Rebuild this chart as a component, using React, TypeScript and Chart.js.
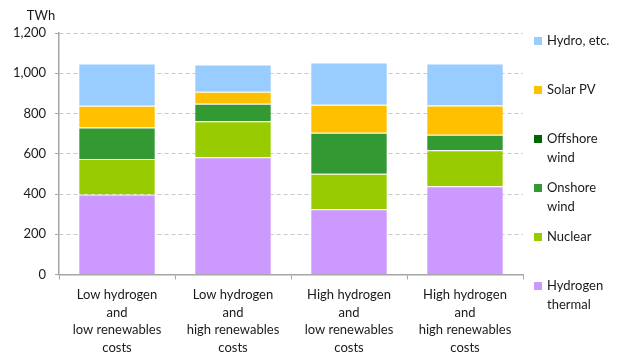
import React, { useEffect, useRef } from "react";
import { Chart, registerables } from "chart.js";

Chart.register(...registerables);

const categories: string[][] = [
  ["Low hydrogen", "and", "low renewables", "costs"],
  ["Low hydrogen", "and", "high renewables", "costs"],
  ["High hydrogen", "and", "low renewables", "costs"],
  ["High hydrogen", "and", "high renewables", "costs"],
];

const hydrogenThermal = [398, 582, 324, 438];
const nuclear = [176, 180, 177, 180];
const onshoreWind = [157, 86, 203, 76];
const offshoreWind = [0, 0, 0, 0];
const solarPV = [107, 60, 139, 146];
const hydroEtc = [211, 136, 211, 209];

const yTicks = [0, 200, 400, 600, 800, 1000, 1200];

const FONT = "Lato, 'Open Sans', sans-serif";

type LegendEntry = { lines: string[]; color: string };

const legendEntries: LegendEntry[] = [
  { lines: ["Hydro, etc."], color: "#99CCFF" },
  { lines: ["Solar PV"], color: "#FFC000" },
  { lines: ["Offshore", "wind"], color: "#006600" },
  { lines: ["Onshore", "wind"], color: "#339933" },
  { lines: ["Nuclear"], color: "#99CC00" },
  { lines: ["Hydrogen", "thermal"], color: "#CC99FF" },
];

const sideLegend = {
  id: "sideLegend",
  afterDraw(chart: Chart) {
    const ctx = chart.ctx;
    const { top, right } = chart.chartArea;
    ctx.save();
    ctx.font = `13px ${FONT}`;
    ctx.fillStyle = "#1a1a1a";
    ctx.textBaseline = "middle";
    ctx.textAlign = "left";
    const x0 = right + 11;
    const startY = top + 8;
    const gap = 49;
    legendEntries.forEach((e, i) => {
      const cy = startY + i * gap;
      ctx.fillStyle = e.color;
      ctx.fillRect(x0, cy - 4, 8, 8);
      ctx.fillStyle = "#1a1a1a";
      e.lines.forEach((ln, j) => {
        ctx.fillText(ln, x0 + 13, cy + j * 18.5);
      });
    });
    // unit label above the value axis
    ctx.textAlign = "center";
    ctx.font = `13px ${FONT}`;
    ctx.fillText("TWh", 41, top - 17);
    ctx.restore();
  },
};

export default function App() {
  const ref = useRef<HTMLCanvasElement | null>(null);

  useEffect(() => {
    if (!ref.current) return;
    const mk = (label: string, data: number[], color: string) => ({
      label,
      data,
      backgroundColor: color,
      borderColor: "rgba(255,255,255,0.35)",
      borderWidth: 1,
      barPercentage: 0.667,
      categoryPercentage: 1,
    });
    const chart = new Chart(ref.current, {
      type: "bar",
      data: {
        labels: categories,
        datasets: [
          mk("Hydrogen thermal", hydrogenThermal, "#CC99FF"),
          mk("Nuclear", nuclear, "#99CC00"),
          mk("Onshore wind", onshoreWind, "#339933"),
          mk("Offshore wind", offshoreWind, "#006600"),
          mk("Solar PV", solarPV, "#FFC000"),
          mk("Hydro, etc.", hydroEtc, "#99CCFF"),
        ],
      },
      options: {
        animation: false,
        responsive: false,
        layout: { padding: { left: 0, right: 94, top: 33, bottom: 0 } },
        plugins: { legend: { display: false }, tooltip: { enabled: false } },
        scales: {
          x: {
            stacked: true,
            offset: true,
            grid: {
              offset: true,
              drawOnChartArea: false,
              drawTicks: true,
              tickLength: 5,
              color: "#a6a6a6",
            },
            border: { color: "#a6a6a6", width: 1.5 },
            ticks: {
              color: "#1a1a1a",
              font: { family: FONT, size: 13, lineHeight: 1.34 },
              padding: 7,
              maxRotation: 0,
              autoSkip: false,
            },
            afterFit: (s: any) => {
              s.height = 83.5;
            },
          },
          y: {
            stacked: true,
            min: 0,
            max: 1200,
            afterBuildTicks: (s: any) => {
              s.ticks = yTicks.map((v) => ({ value: v }));
            },
            grid: {
              color: "#c8c8c8",
              tickLength: 4,
              tickColor: "#a6a6a6",
            },
            border: { color: "#a6a6a6", width: 1.5, dash: [4, 3] },
            ticks: {
              color: "#1a1a1a",
              font: { family: FONT, size: 13 },
              padding: 9,
              callback: (v: any) => Number(v).toLocaleString("en-US"),
            },
            afterFit: (s: any) => {
              s.width = 59;
            },
          },
        },
      },
      plugins: [sideLegend],
    });
    return () => chart.destroy();
  }, []);

  return (
    <div style={{ position: "absolute", left: 0, top: 0, width: 617, height: 358, background: "#fff" }}>
      <canvas ref={ref} width={617} height={358} style={{ width: 617, height: 358 }} />
    </div>
  );
}
